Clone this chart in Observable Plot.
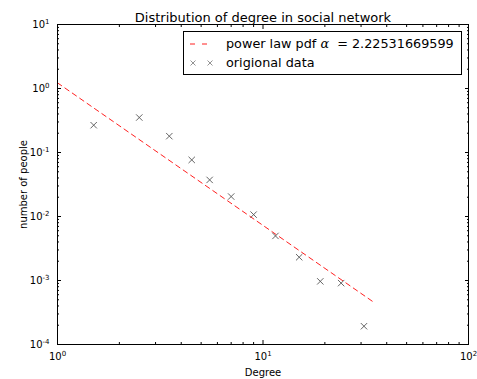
<!DOCTYPE html>
<html>
<head>
<meta charset="utf-8">
<script src="https://cdn.jsdelivr.net/npm/d3@7"></script>
<script src="https://cdn.jsdelivr.net/npm/@observablehq/plot@0.6"></script>
<style>
  html, body { margin: 0; padding: 0; background: #fff; }
  svg { font-family: "DejaVu Sans", sans-serif; }
</style>
</head>
<body>
<div id="chart"></div>
<script>
// Data
const degree = [1.5, 2.5, 3.5, 4.5, 5.5, 7, 9, 11.5, 15, 19, 24, 31];
const people = [0.267, 0.352, 0.18, 0.0766, 0.0373, 0.0205, 0.0107, 0.00497, 0.00231, 0.00097, 0.00091, 0.000193];
// Fitted power-law line (straight on log-log): end points
const fitX = [1, 35.2];
const fitY = [1.2253, 0.00044];
const alphaText = "2.22531669599";
const xMajor = [1, 10, 100];
const xMajorExp = ["0", "1", "2"];
const yMajor = [1e-4, 1e-3, 1e-2, 1e-1, 1, 10];
const yMajorExp = ["-4", "-3", "-2", "-1", "0", "1"];
const title = "Distribution of degree in social network";
const xLabel = "Degree";
const yLabel = "number of people";
const legendLine = "power law pdf";
const legendData = "origional data";

const xMinor = [];
for (const d of [1, 10]) for (let k = 2; k <= 9; k++) xMinor.push(d * k);
const yMinor = [];
for (const d of [1e-4, 1e-3, 1e-2, 1e-1, 1]) for (let k = 2; k <= 9; k++) yMinor.push(d * k);

const points = degree.map((d, i) => ({x: d, y: people[i]}));
const fit = fitX.map((d, i) => ({x: d, y: fitY[i]}));

const plot = Plot.plot({
  width: 477,
  height: 379,
  marginLeft: 57,
  marginRight: 9,
  marginTop: 24,
  marginBottom: 35,
  style: {fontFamily: "DejaVu Sans, sans-serif", fontSize: "10px", background: "#fff"},
  x: {type: "log", domain: [1, 100]},
  y: {type: "log", domain: [1e-4, 10]},
  marks: [
    Plot.line(fit, {x: "x", y: "y", stroke: "#ff2020", strokeWidth: 1, strokeDasharray: "5,4"}),
    Plot.dot(points, {x: "x", y: "y", symbol: "times", r: 3, stroke: "#555", strokeWidth: 0.9}),
    // major ticks (inward) on all four sides
    Plot.axisX({anchor: "bottom", ticks: xMajor, tickSize: -4, text: null, label: null}),
    Plot.axisX({anchor: "top", ticks: xMajor, tickSize: -4, text: null, label: null}),
    Plot.axisY({anchor: "left", ticks: yMajor, tickSize: -4, text: null, label: null}),
    Plot.axisY({anchor: "right", ticks: yMajor, tickSize: -4, text: null, label: null}),
    // minor ticks
    Plot.axisX({anchor: "bottom", ticks: xMinor, tickSize: -2, text: null, label: null}),
    Plot.axisX({anchor: "top", ticks: xMinor, tickSize: -2, text: null, label: null}),
    Plot.axisY({anchor: "left", ticks: yMinor, tickSize: -2, text: null, label: null}),
    Plot.axisY({anchor: "right", ticks: yMinor, tickSize: -2, text: null, label: null}),
    // tick labels + axis labels
    Plot.axisX({anchor: "bottom", ticks: xMajor, tickSize: 0, tickPadding: 8, tickFormat: () => "10",
      label: xLabel, labelAnchor: "center", labelArrow: "none", labelOffset: 31, fill: "#000", fontSize: 10}),
    Plot.axisY({anchor: "left", ticks: yMajor, tickSize: 0, tickPadding: 8, tickFormat: () => "10",
      label: yLabel, labelAnchor: "center", labelArrow: "none", labelOffset: 38, fill: "#000", fontSize: 10}),
    Plot.frame({stroke: "#000", strokeWidth: 1}),
    Plot.text([title], {frameAnchor: "top", lineAnchor: "bottom", dy: -3, fontSize: 13, fill: "#000", text: d => d})
  ]
});

document.getElementById("chart").appendChild(plot);
const svg = d3.select(plot);

// superscript exponents on tick labels (only texts reading exactly "10")
svg.selectAll("g[aria-label='x-axis tick label']").each(function() {
  const texts = d3.select(this).selectAll("text").filter(function() { return this.textContent === "10"; });
  texts.each(function(_, i) {
    d3.select(this).append("tspan").attr("dy", "-0.55em").attr("font-size", "7px").text(xMajorExp[i]);
  });
});
svg.selectAll("g[aria-label='y-axis tick label']").each(function() {
  const texts = d3.select(this).selectAll("text").filter(function() { return this.textContent === "10"; });
  texts.each(function(_, i) {
    d3.select(this).append("tspan").attr("dy", "-0.55em").attr("font-size", "7px").text(yMajorExp[i]);
  });
});

// legend
const lg = svg.append("g").attr("font-family", "DejaVu Sans, sans-serif").attr("text-anchor", "start");
lg.append("rect").attr("x", 183.5).attr("y", 31.5).attr("width", 278).attr("height", 43)
  .attr("fill", "#fff").attr("stroke", "#000").attr("stroke-width", 1);
lg.append("line").attr("x1", 190).attr("x2", 212).attr("y1", 44).attr("y2", 44)
  .attr("stroke", "#ff2020").attr("stroke-dasharray", "5,7").attr("stroke-width", 1);
const t1 = lg.append("text").attr("x", 226).attr("y", 48).attr("font-size", "12.8px").attr("fill", "#000");
t1.append("tspan").text(legendLine + " ");
t1.append("tspan").attr("font-family", "DejaVu Serif, serif").attr("font-style", "italic").text("α");
t1.append("tspan").attr("xml:space", "preserve").text("  = " + alphaText);
for (const cx of [193, 210]) {
  lg.append("path").attr("d", `M${cx-2.5},${63-2.5}L${cx+2.5},${63+2.5}M${cx-2.5},${63+2.5}L${cx+2.5},${63-2.5}`)
    .attr("stroke", "#777").attr("stroke-width", 0.8);
}
lg.append("text").attr("x", 226).attr("y", 67).attr("font-size", "12.8px").attr("fill", "#000").text(legendData);
</script>
</body>
</html>
